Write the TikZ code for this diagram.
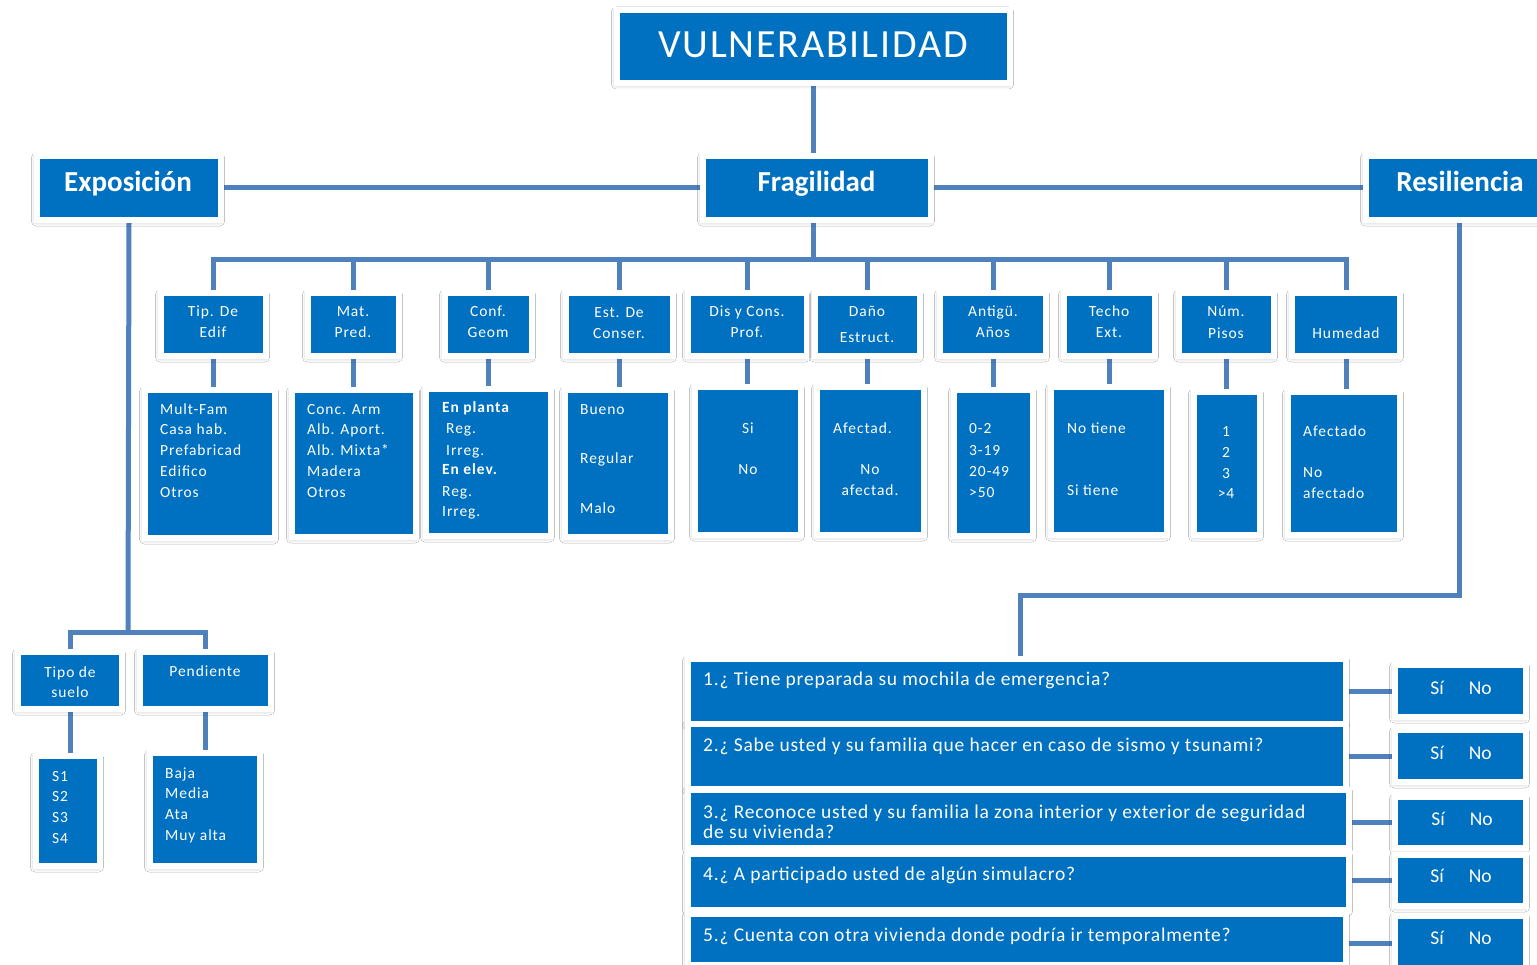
\documentclass[tikz,border=0pt]{standalone}
\usepackage{fontspec}
\setmainfont{Carlito}
\usetikzlibrary{shadows.blur,backgrounds}
\definecolor{boxblue}{HTML}{0070C0}
\definecolor{linkblue}{HTML}{4F81BD}
\newcommand\fsm{\fontsize{15.5}{19}\selectfont\addfontfeature{LetterSpace=6}}
\newcommand\fq{\fontsize{19.5}{23}\selectfont\addfontfeature{LetterSpace=4}}
\newcommand\fsn{\fontsize{19.5}{23}\selectfont}
\tikzset{
  bx/.style={fill=boxblue, draw=white, line width=6pt, inner sep=0pt,
    blur shadow={shadow xshift=-1pt, shadow yshift=-1.5pt, shadow blur radius=4.5pt, shadow opacity=35}},
  conn/.style={draw=linkblue, line width=5pt, line join=miter},
  tl/.style={text=white, inner sep=0pt, anchor=base west, font=\fsm},
  tc/.style={text=white, inner sep=0pt, anchor=base, font=\fsm},
  tq/.style={text=white, inner sep=0pt, anchor=base west, font=\fq},
  tsn/.style={text=white, inner sep=0pt, anchor=base, font=\fsn},
  ttl/.style={text=white, inner sep=0pt, anchor=base, font=\fontsize{29}{34}\selectfont\bfseries},
}
\newcommand\mybox[5]{\node[bx, minimum width={#4-#2+6}, minimum height={#5-#3+6}] (#1) at ({(#2+#4)/2},{(#3+#5)/2}) {};}
\begin{document}
\begin{tikzpicture}[x=1pt,y=-1pt]
\useasboundingbox (0,0) rectangle (1537,965);
% boxes
\mybox{vul}{620}{13}{1007}{80}
\mybox{frag}{706}{159}{928}{217}
\mybox{exp}{40}{159}{218}{217}
\mybox{res}{1369}{159}{1550}{217}
\mybox{h1}{164}{296}{263}{353}
\mybox{h2}{311}{296}{396}{353}
\mybox{h3}{448}{296}{529}{353}
\mybox{h4}{569}{296}{670}{353}
\mybox{h5}{691}{296}{804}{353}
\mybox{h6}{818}{296}{917}{353}
\mybox{h7}{943}{296}{1043}{353}
\mybox{h8}{1067}{296}{1152}{353}
\mybox{h9}{1182}{296}{1271}{353}
\mybox{h10}{1295}{296}{1397}{353}
\mybox{d1}{148}{393}{272}{535}
\mybox{d2}{295}{393}{413}{534}
\mybox{d3}{429}{392}{548}{533}
\mybox{d4}{568}{393}{668}{534}
\mybox{d5}{698}{390}{798}{532}
\mybox{d6}{820}{390}{921}{532}
\mybox{d7}{957}{393}{1030}{533}
\mybox{d8}{1054}{390}{1164}{532}
\mybox{d9}{1197}{395}{1257}{532}
\mybox{d10}{1291}{395}{1397}{532}
\mybox{ts}{21}{655}{119}{706}
\mybox{pe}{143}{655}{268}{706}
\mybox{sb}{39}{759}{97}{863}
\mybox{bj}{153}{756}{257}{863}
\mybox{q1}{691}{662}{1343}{721}
\mybox{q2}{691}{727}{1343}{786}
\mybox{q3}{691}{793}{1346}{845}
\mybox{q4}{691}{857}{1346}{907}
\mybox{q5}{691}{917}{1343}{962}
\mybox{s1}{1398}{668}{1523}{714}
\mybox{s2}{1398}{733}{1523}{779}
\mybox{s3}{1398}{800}{1523}{845}
\mybox{s4}{1398}{858}{1523}{903}
\mybox{s5}{1398}{919}{1523}{968}
% connectors
\coordinate (fb) at (812,260);
\coordinate (eb) at (128,632);
\coordinate (rb) at (1020,595);
\begin{pgfonlayer}{background}
\fill[white] (0,0) rectangle (1537,965);
\draw[conn] (vul.south) -- (vul.south |- frag.north);
\draw[conn] (exp.east) -- (frag.west);
\draw[conn] (frag.east) -- (res.west);
\draw[conn] (vul.south |- frag.south) -- (vul.south |- fb);
\draw[conn] (h1.north) -- (h1.north |- fb) -- (h10.north |- fb) -- (h10.north);
\foreach \h in {h2,h3,h4,h5,h6,h7,h8,h9}{\draw[conn] (\h.north |- fb) -- (\h.north);}
\foreach \h/\d in {h1/d1,h2/d2,h3/d3,h4/d4,h5/d5,h6/d6,h7/d7,h8/d8,h9/d9,h10/d10}{\draw[conn] (\h.south) -- (\h.south |- \d.north);}
\draw[conn] (exp.south) -- (eb);
\draw[conn] (ts.north) -- (ts.north |- eb) -- (pe.north |- eb) -- (pe.north);
\draw[conn] (ts.south) -- (ts.south |- sb.north);
\draw[conn] (pe.south) -- (pe.south |- bj.north);
\draw[conn] (res.south) |- (rb) -- (rb |- q1.north);
\foreach \q/\s in {q1/s1,q2/s2,q3/s3,q4/s4,q5/s5}{\draw[conn] (\s.west -| \q.east) -- (\s.west);}
\end{pgfonlayer}
% titles
\node[text=white, inner sep=0pt, anchor=base, font=\fontsize{40}{48}\selectfont\addfontfeature{LetterSpace=4.5}] (tvul) at (813,58) {VULNERABILIDAD};
\node[ttl] (tfrag) at (816.5,192) {Fragilidad};
\node[ttl] (texp) at (128,192) {Exposición};
\node[ttl] (tres) at (1460,192) {Resiliencia};
% headers
\node[tc] (a1) at (213,317) {Tip. De}; \node[tc] (a1b) at (213,338) {Edif};
\node[tc] (a2) at (353,317) {Mat.}; \node[tc] (a2b) at (353,338) {Pred.};
\node[tc] (a3) at (488,317) {Conf.}; \node[tc] (a3b) at (488,338) {Geom};
\node[tc] (a4) at (619,318) {Est. De}; \node[tc] (a4b) at (619,339) {Conser.};
\node[tc] (a5) at (747,317) {Dis y Cons.}; \node[tc] (a5b) at (747,338) {Prof.};
\node[tc] (a6) at (867,317) {Daño}; \node[tc] (a6b) at (867,343) {Estruct.};
\node[tc] (a7) at (993,317) {Antigü.}; \node[tc] (a7b) at (993,338) {Años};
\node[tc] (a8) at (1109,317) {Techo}; \node[tc] (a8b) at (1109,338) {Ext.};
\node[tc] (a9) at (1226,317) {Núm.}; \node[tc] (a9b) at (1226,339) {Pisos};
\node[tc] (a10) at (1346,339) {Humedad};
% details
\foreach \t [count=\i] in {Mult-Fam,Casa hab.,Prefabricad,Edifico,Otros}{\node[tl] (e1\i) at (160,{414+20.75*(\i-1)}) {\t};}
\foreach \t [count=\i] in {Conc. Arm,Alb. Aport.,Alb. Mixta*,Madera,Otros}{\node[tl] (e2\i) at (307,{414+20.75*(\i-1)}) {\t};}
\node[tl] (e31) at (442,413) {\bfseries En planta};
\node[tl] (e32) at (446,433) {Reg.};
\node[tl] (e33) at (446,455) {Irreg.};
\node[tl] (e34) at (442,475) {\bfseries En elev.};
\node[tl] (e35) at (442,496) {Reg.};
\node[tl] (e36) at (442,516) {Irreg.};
\node[tl] (e41) at (580,414) {Bueno};
\node[tl] (e42) at (580,463) {Regular};
\node[tl] (e43) at (580,513) {Malo};
\node[tc] (e51) at (748,433) {Si};
\node[tc] (e52) at (748,475) {No};
\node[tl] (e61) at (833,433) {Afectad.};
\node[tc] (e62) at (870,475) {No};
\node[tc] (e63) at (870,495) {afectad.};
\foreach \t [count=\i] in {0-2,3-19,20-49,>50}{\node[tl] (e7\i) at (969,{434+21*(\i-1)}) {\t};}
\node[tl] (e81) at (1067,433) {No tiene};
\node[tl] (e82) at (1067,495) {Si tiene};
\foreach \t [count=\i] in {1,2,3,>4}{\node[tc] (e9\i) at (1226,{437+20.5*(\i-1)}) {\t};}
\node[tl] (e101) at (1303,436) {Afectado};
\node[tl] (e102) at (1303,477) {No};
\node[tl] (e103) at (1303,498) {afectado};
% bottom left
\node[tc] (f1) at (70,677) {Tipo de}; \node[tc] (f1b) at (70,697) {suelo};
\node[tc] (f2) at (205,676) {Pendiente};
\foreach \t [count=\i] in {S1,S2,S3,S4}{\node[tl] (g1\i) at (52,{781+20.7*(\i-1)}) {\t};}
\foreach \t [count=\i] in {Baja,Media,Ata,Muy alta}{\node[tl] (g2\i) at (165,{778+20.7*(\i-1)}) {\t};}
% questions
\node[tq] (k1) at (703,685) {1.¿ Tiene preparada su mochila de emergencia?};
\node[tq] (k2) at (703,751) {2.¿ Sabe usted y su familia que hacer en caso de sismo y tsunami?};
\node[tq] (k3) at (703,818) {3.¿ Reconoce usted y su familia la zona interior y exterior de seguridad};
\node[tq] (k3b) at (703,838) {de su vivienda?};
\node[tq] (k4) at (703,880) {4.¿ A participado usted de algún simulacro?};
\node[tq] (k5) at (703,941) {5.¿ Cuenta con otra vivienda donde podría ir temporalmente?};
\node[tsn] (m1) at (1461,694) {Sí\hspace{25pt}No};
\node[tsn] (m2) at (1461,759) {Sí\hspace{25pt}No};
\node[tsn] (m3) at (1462,825) {Sí\hspace{25pt}No};
\node[tsn] (m4) at (1461,882) {Sí\hspace{25pt}No};
\node[tsn] (m5) at (1461,944) {Sí\hspace{25pt}No};
\end{tikzpicture}
\end{document}
